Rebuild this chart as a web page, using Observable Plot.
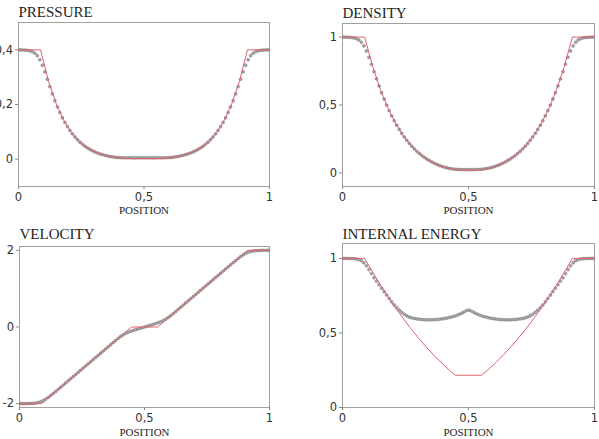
<!DOCTYPE html>
<html>
<head>
<meta charset="utf-8">
<script src="https://cdn.jsdelivr.net/npm/d3@7"></script>
<script src="https://cdn.jsdelivr.net/npm/@observablehq/plot@0.6"></script>
<style>
  html, body { margin: 0; padding: 0; background: #fff; overflow: hidden; }
  #fig { position: relative; width: 599px; height: 439px; overflow: hidden; }
  #fig > .panel { position: absolute; }
</style>
</head>
<body>
<div id="fig"></div>
<script>
// Cell centres of the 100-cell numerical solution
const cellX = [0.005,0.015,0.025,0.035,0.045,0.055,0.065,0.075,0.085,0.095,
  0.105,0.115,0.125,0.135,0.145,0.155,0.165,0.175,0.185,0.195,
  0.205,0.215,0.225,0.235,0.245,0.255,0.265,0.275,0.285,0.295,
  0.305,0.315,0.325,0.335,0.345,0.355,0.365,0.375,0.385,0.395,
  0.405,0.415,0.425,0.435,0.445,0.455,0.465,0.475,0.485,0.495,
  0.505,0.515,0.525,0.535,0.545,0.555,0.565,0.575,0.585,0.595,
  0.605,0.615,0.625,0.635,0.645,0.655,0.665,0.675,0.685,0.695,
  0.705,0.715,0.725,0.735,0.745,0.755,0.765,0.775,0.785,0.795,
  0.805,0.815,0.825,0.835,0.845,0.855,0.865,0.875,0.885,0.895,
  0.905,0.915,0.925,0.935,0.945,0.955,0.965,0.975,0.985,0.995];

// Numerical solution (circles)
const numPressure = [0.3998,0.3995,0.3990,0.3982,0.3964,0.3933,0.3878,0.3784,0.3637,0.3437,
  0.3192,0.2926,0.2652,0.2387,0.2141,0.1912,0.1706,0.1515,0.1343,0.1188,
  0.1049,0.0924,0.0812,0.0711,0.0622,0.0542,0.0472,0.0409,0.0354,0.0305,
  0.0262,0.0224,0.0191,0.0163,0.0138,0.0116,0.0098,0.0082,0.0068,0.0060,
  0.0055,0.0052,0.0050,0.0049,0.0048,0.0048,0.0048,0.0048,0.0048,0.0048,
  0.0048,0.0048,0.0048,0.0048,0.0048,0.0048,0.0049,0.0050,0.0052,0.0055,
  0.0060,0.0068,0.0082,0.0098,0.0116,0.0138,0.0163,0.0191,0.0224,0.0262,
  0.0305,0.0354,0.0409,0.0472,0.0542,0.0622,0.0711,0.0812,0.0924,0.1049,
  0.1188,0.1343,0.1515,0.1706,0.1912,0.2141,0.2387,0.2652,0.2926,0.3192,
  0.3437,0.3637,0.3784,0.3878,0.3933,0.3964,0.3982,0.3990,0.3995,0.3998];

const numDensity = [0.9996,0.9992,0.9983,0.9968,0.9935,0.9881,0.9782,0.9611,0.9343,0.8975,
  0.8513,0.7998,0.7457,0.6916,0.6400,0.5902,0.5441,0.4998,0.4588,0.4202,
  0.3845,0.3511,0.3202,0.2913,0.2648,0.2400,0.2173,0.1962,0.1769,0.1590,
  0.1428,0.1277,0.1141,0.1015,0.0902,0.0799,0.0705,0.0620,0.0544,0.0476,
  0.0418,0.0370,0.0330,0.0298,0.0275,0.0260,0.0250,0.0245,0.0242,0.0240,
  0.0240,0.0242,0.0245,0.0250,0.0260,0.0275,0.0298,0.0330,0.0370,0.0418,
  0.0476,0.0544,0.0620,0.0705,0.0799,0.0902,0.1015,0.1141,0.1277,0.1428,
  0.1590,0.1769,0.1962,0.2173,0.2400,0.2648,0.2913,0.3202,0.3511,0.3845,
  0.4202,0.4588,0.4998,0.5441,0.5902,0.6400,0.6916,0.7457,0.7998,0.8513,
  0.8975,0.9343,0.9611,0.9782,0.9881,0.9935,0.9968,0.9983,0.9992,0.9996];

const numVelocity = [-2.000,-2.000,-1.999,-1.998,-1.995,-1.991,-1.983,-1.970,-1.950,-1.920,
  -1.881,-1.836,-1.787,-1.734,-1.681,-1.626,-1.571,-1.516,-1.460,-1.404,
  -1.349,-1.293,-1.238,-1.182,-1.127,-1.071,-1.016,-0.960,-0.904,-0.849,
  -0.793,-0.738,-0.682,-0.627,-0.571,-0.516,-0.460,-0.404,-0.349,-0.296,
  -0.248,-0.205,-0.168,-0.138,-0.112,-0.090,-0.070,-0.050,-0.030,-0.010,
  0.010,0.030,0.050,0.070,0.090,0.112,0.138,0.168,0.205,0.248,
  0.296,0.349,0.404,0.460,0.516,0.571,0.627,0.682,0.738,0.793,
  0.849,0.904,0.960,1.016,1.071,1.127,1.182,1.238,1.293,1.349,
  1.404,1.460,1.516,1.571,1.626,1.681,1.734,1.787,1.836,1.881,
  1.920,1.950,1.970,1.983,1.991,1.995,1.998,1.999,2.000,2.000];

const numEnergy = [1.000,1.000,0.999,0.999,0.998,0.996,0.992,0.984,0.970,0.950,
  0.925,0.898,0.870,0.847,0.823,0.800,0.777,0.754,0.731,0.709,
  0.688,0.670,0.653,0.638,0.625,0.615,0.607,0.601,0.597,0.594,
  0.592,0.590,0.589,0.588,0.588,0.588,0.589,0.590,0.592,0.594,
  0.597,0.600,0.604,0.608,0.613,0.619,0.626,0.634,0.643,0.652,
  0.652,0.643,0.634,0.626,0.619,0.613,0.608,0.604,0.600,0.597,
  0.594,0.592,0.590,0.589,0.588,0.588,0.588,0.589,0.590,0.592,
  0.594,0.597,0.601,0.607,0.615,0.625,0.638,0.653,0.670,0.688,
  0.709,0.731,0.754,0.777,0.800,0.823,0.847,0.870,0.898,0.925,
  0.950,0.970,0.984,0.992,0.996,0.998,0.999,0.999,1.000,1.000];

// Exact solution (red polyline vertices)
const exactX = [0, 0.0878, 0.12, 0.15, 0.18, 0.21, 0.24, 0.27, 0.30, 0.33, 0.36, 0.39, 0.42, 0.4478,
  0.5522, 0.58, 0.61, 0.64, 0.67, 0.70, 0.73, 0.76, 0.79, 0.82, 0.85, 0.88, 0.9122, 1];
const exactPressure = [0.4, 0.4, 0.2839, 0.2029, 0.1427, 0.0984, 0.0666, 0.0439, 0.0283, 0.0176, 0.0107, 0.0062, 0.0034, 0.0019,
  0.0019, 0.0034, 0.0062, 0.0107, 0.0176, 0.0283, 0.0439, 0.0666, 0.0984, 0.1427, 0.2029, 0.2839, 0.4, 0.4];
const exactDensity = [1, 1, 0.7828, 0.6158, 0.4790, 0.3673, 0.2778, 0.2064, 0.1507, 0.1076, 0.0751, 0.0509, 0.0334, 0.0218,
  0.0218, 0.0334, 0.0509, 0.0751, 0.1076, 0.1507, 0.2064, 0.2778, 0.3673, 0.4790, 0.6158, 0.7828, 1, 1];
const exactVelocity = [-2, -2, -1.821, -1.654, -1.488, -1.321, -1.154, -0.988, -0.821, -0.654, -0.488, -0.321, -0.154, 0,
  0, 0.154, 0.321, 0.488, 0.654, 0.821, 0.988, 1.154, 1.321, 1.488, 1.654, 1.821, 2, 2];
const exactEnergy = [1, 1, 0.9067, 0.8237, 0.7449, 0.6699, 0.5991, 0.5320, 0.4691, 0.4100, 0.3550, 0.3038, 0.2567, 0.2166,
  0.2166, 0.2567, 0.3038, 0.3550, 0.4100, 0.4691, 0.5320, 0.5991, 0.6699, 0.7449, 0.8237, 0.9067, 1, 1];

// Panel titles, axis ticks and label
const titles = ["PRESSURE", "DENSITY", "VELOCITY", "INTERNAL ENERGY"];
const xTicks = [0, 0.5, 1];
const yTicks = [[0, 0.2, 0.4], [0, 0.5, 1], [-2, 0, 2], [0, 0.5, 1]];
const xLabel = "POSITION";

const commaFormat = (d) => String(d).replace(".", ",");
const serif = "'Liberation Serif', 'DejaVu Serif', serif";
const sans = "'DejaVu Sans', sans-serif";

function panel({title, values, exact, yDomain, ticks, left, top, width, height,
                mLeft, mRight, mTop, mBottom, titleDy, labelDy}) {
  const cells = cellX.map((x, i) => ({x, v: values[i]}));
  const line = exactX.map((x, i) => ({x, v: exact[i]}));
  const chart = Plot.plot({
    width, height,
    marginLeft: mLeft, marginRight: mRight, marginTop: mTop, marginBottom: mBottom,
    style: {background: "transparent", fontFamily: sans, fontSize: "11.5px", color: "#333"},
    x: {domain: [0, 1]},
    y: {domain: yDomain},
    marks: [
      Plot.frame({stroke: "#a0a0a0"}),
      Plot.axisX({ticks: xTicks, tickFormat: commaFormat, tickSize: 3, tickPadding: 3,
                  label: null, stroke: "#888", fill: "#333"}),
      Plot.axisY({ticks, tickFormat: commaFormat, tickSize: 3, tickPadding: 2.5,
                  label: null, stroke: "#888", fill: "#333"}),
      Plot.dot(cells, {x: "x", y: "v", r: 1.4, fill: "#b0b0b0", stroke: "#6e6e6e", strokeWidth: 0.6}),
      Plot.line(line, {x: "x", y: "v", stroke: "#e0606c", strokeWidth: 1}),
      Plot.text([title], {frameAnchor: "top-left", textAnchor: "start", lineAnchor: "bottom",
                          dy: titleDy, fontFamily: serif, fontSize: 15, fill: "#1e1e1e"}),
      Plot.text([xLabel], {frameAnchor: "bottom", lineAnchor: "bottom",
                           dy: labelDy, fontFamily: serif, fontSize: 11, fill: "#1e1e1e"})
    ]
  });
  const holder = document.createElement("div");
  holder.className = "panel";
  holder.style.left = left + "px";
  holder.style.top = top + "px";
  holder.appendChild(chart);
  document.getElementById("fig").appendChild(holder);
}

panel({title: titles[0], values: numPressure, exact: exactPressure, yDomain: [-0.1, 0.5], ticks: yTicks[0],
       left: 0, top: 0, width: 300, height: 220, mLeft: 18, mRight: 31, mTop: 22, mBottom: 34,
       titleDy: -5.5, labelDy: 27});
panel({title: titles[1], values: numDensity, exact: exactDensity, yDomain: [-0.1, 1.1], ticks: yTicks[1],
       left: 300, top: 0, width: 299, height: 220, mLeft: 42, mRight: 5, mTop: 23, mBottom: 34,
       titleDy: -6, labelDy: 27});
panel({title: titles[2], values: numVelocity, exact: exactVelocity, yDomain: [-2.1, 2.1], ticks: yTicks[2],
       left: 0, top: 220, width: 300, height: 219, mLeft: 19, mRight: 31, mTop: 26, mBottom: 32,
       titleDy: -8, labelDy: 28});
panel({title: titles[3], values: numEnergy, exact: exactEnergy, yDomain: [0, 1.1], ticks: yTicks[3],
       left: 300, top: 220, width: 299, height: 219, mLeft: 42, mRight: 5, mTop: 23, mBottom: 32,
       titleDy: -5, labelDy: 28});
</script>
</body>
</html>
